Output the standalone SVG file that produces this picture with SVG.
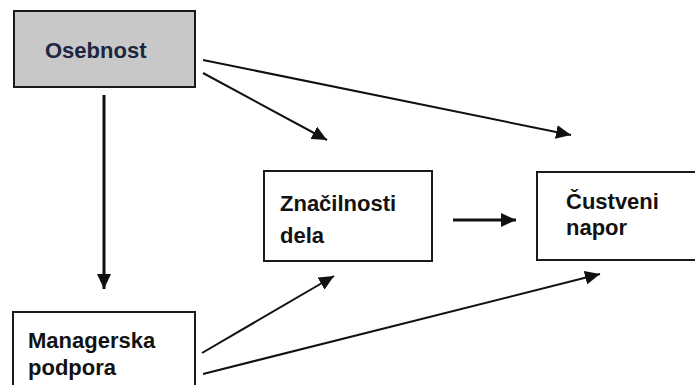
<svg xmlns="http://www.w3.org/2000/svg" width="695" height="385" viewBox="0 0 695 385">
  <style>
    .box { fill: #ffffff; stroke: #1a1a1a; stroke-width: 2; }
    .shade { fill: #c8c8c8; }
    .lbl { font-family: "Liberation Sans", Arial, sans-serif; font-weight: bold; font-size: 22px; fill: #121212; }
    .edge { stroke: #111111; stroke-width: 2; fill: none; marker-end: url(#head); }
  </style>
  <defs>
    <marker id="head" markerUnits="userSpaceOnUse" markerWidth="16" markerHeight="14" refX="15" refY="7" orient="auto">
      <path d="M0,0 L15,7 L0,14 Z" fill="#111111"/>
    </marker>
  </defs>
  <rect width="695" height="385" fill="#ffffff"/>

  <g id="connectors">
    <line class="edge" x1="104" y1="95" x2="104" y2="289" style="stroke-width:3"/>
    <line class="edge" x1="203" y1="73" x2="327" y2="140"/>
    <line class="edge" x1="203" y1="60" x2="571" y2="135"/>
    <line class="edge" x1="453" y1="220" x2="516" y2="220" style="stroke-width:3"/>
    <line class="edge" x1="202" y1="353" x2="334" y2="276"/>
    <line class="edge" x1="203" y1="374" x2="600" y2="274"/>
  </g>

  <g id="osebnost">
    <rect class="box shade" x="14" y="11" width="181" height="76"/>
    <text class="lbl" x="45" y="58" style="fill:#1c2640">Osebnost</text>
  </g>

  <g id="znacilnosti">
    <rect class="box" x="264" y="171" width="168" height="90"/>
    <text class="lbl" x="280" y="211">Značilnosti</text>
    <text class="lbl" x="280" y="243">dela</text>
  </g>

  <g id="custveni">
    <rect class="box" x="537" y="172" width="170" height="88"/>
    <text class="lbl" x="566" y="209">Čustveni</text>
    <text class="lbl" x="566" y="235">napor</text>
  </g>

  <g id="managerska">
    <rect class="box" x="13" y="312" width="182" height="90"/>
    <text class="lbl" x="28" y="348">Managerska</text>
    <text class="lbl" x="28" y="375">podpora</text>
  </g>
</svg>
